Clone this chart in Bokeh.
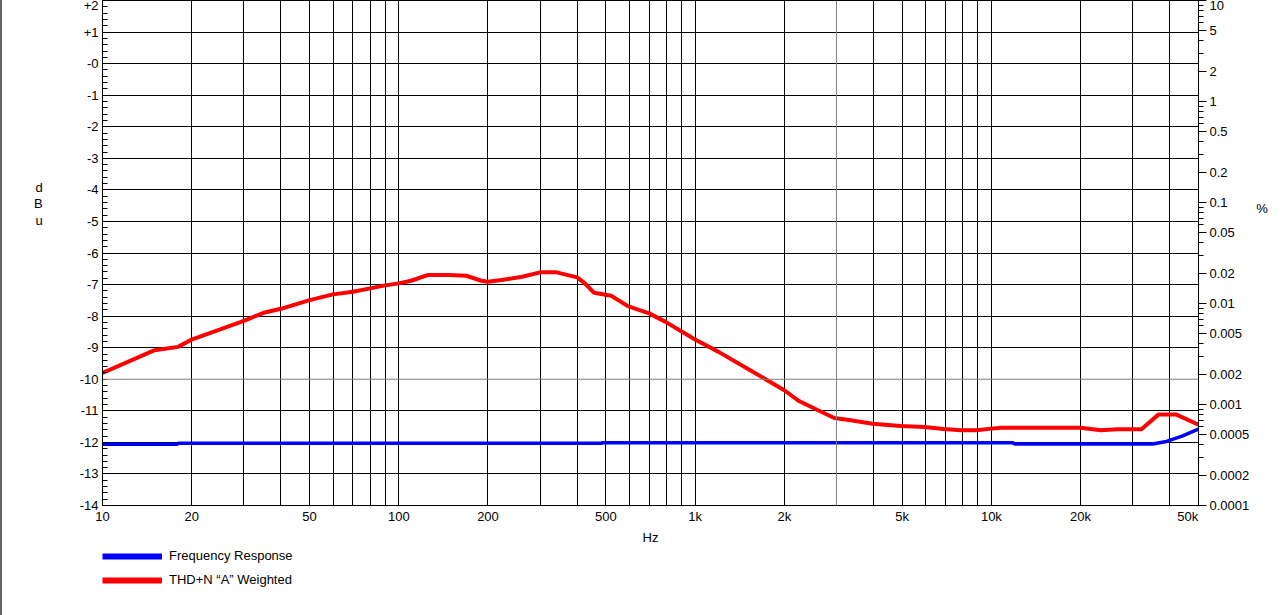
from bokeh.plotting import figure
from bokeh.layouts import column
from bokeh.models import (Range1d, LogAxis, FixedTicker, LogScale, Legend, LegendItem,
                          Span, CustomJSTickFormatter)
from bokeh.embed import file_html
from bokeh.resources import INLINE

FONT = "Liberation Sans"
NAN = float("nan")

# ---------------- data ----------------
freq_resp_hz = [10, 17.9, 18, 480, 490, 11800, 12000, 35000, 39000, 44000, 50000]
freq_resp_dbu = [-12.06, -12.06, -12.03, -12.03, -12.01, -12.01, -12.05, -12.05, -11.97, -11.80, -11.58]

thd_hz = [10, 15, 18, 20, 30, 35, 40, 50, 60, 70,
          80, 90, 100, 110, 125, 147, 169, 190, 200, 222,
          261, 300, 341, 400, 425, 456, 521, 593, 700, 795,
          898, 1000, 1200, 1550, 2000, 2250, 2600, 2950, 3350, 3970,
          4940, 5930, 6900, 7900, 8900, 10000, 10800, 13900, 20000, 23400,
          26700, 32100, 36600, 42100, 50000]
thd_pct = [0.00205, 0.00345, 0.00372, 0.00440, 0.00674, 0.00809, 0.00886, 0.01081, 0.01231, 0.01306,
           0.01412, 0.01512, 0.01582, 0.01680, 0.01913, 0.01913, 0.01883, 0.01680, 0.01642, 0.01707,
           0.01841, 0.02035, 0.02035, 0.01815, 0.01582, 0.01277, 0.01192, 0.00942, 0.00798, 0.00658,
           0.00532, 0.00440, 0.00332, 0.00215, 0.001384, 0.001076, 0.000876, 0.000735, 0.000697, 0.000646,
           0.000612, 0.000598, 0.000571, 0.000555, 0.000555, 0.000577, 0.000590, 0.000590, 0.000590, 0.000555,
           0.000568, 0.000568, 0.000794, 0.000794, 0.000632]

x_ticks = [10, 20, 50, 100, 200, 500, 1000, 2000, 5000, 10000, 20000, 50000]
x_labels = ["10", "20", "50", "100", "200", "500", "1k", "2k", "5k", "10k", "20k",
            "50k\u00a0\u00a0\u00a0\u00a0\u00a0\u00a0"]
dbu_ticks = list(range(-14, 3))
pct_ticks = [0.0001, 0.0002, 0.0005, 0.001, 0.002, 0.005, 0.01, 0.02, 0.05, 0.1, 0.2, 0.5, 1, 2, 5, 10]
pct_labels = ["0.0001", "0.0002", "0.0005", "0.001", "0.002", "0.005", "0.01", "0.02", "0.05",
              "0.1", "0.2", "0.5", "1", "2", "5", "10"]
series_names = ["Frequency Response", "THD+N \u201cA\u201d Weighted"]

W = 1278
H_MAIN = 548
H_LEG = 67

# ---------------- main figure ----------------
p = figure(width=W, height=H_MAIN, x_axis_type="log",
           x_range=Range1d(10, 50000), y_range=Range1d(-14, 2),
           output_backend="svg", toolbar_location=None,
           min_border_left=98, min_border_right=W - 1196, min_border_top=0,
           min_border_bottom=H_MAIN - 505)
p.outline_line_color = "black"
p.outline_line_width = 1
p.background_fill_color = "white"
p.border_fill_color = "white"

p.extra_y_ranges = {"pct": Range1d(0.0001, 10)}
p.extra_y_scales = {"pct": LogScale()}

# grid
grid_x = [m * 10 ** e for e in range(1, 5) for m in range(1, 10)] + [50000]
grid_x = [g for g in grid_x if 10 <= g <= 50000 and g != 3000]
p.xgrid.ticker = FixedTicker(ticks=grid_x)
p.xgrid.grid_line_color = "black"
p.xgrid.grid_line_width = 1
p.ygrid.ticker = FixedTicker(ticks=[t for t in dbu_ticks if t != -10])
p.ygrid.grid_line_color = "black"
p.ygrid.grid_line_width = 1
p.add_layout(Span(location=-10, dimension="width", line_color="#808080", line_width=1))
p.add_layout(Span(location=3000, dimension="height", line_color="#808080", line_width=1))

LOOKUP = """
let best = 0, bd = Infinity;
for (let i = 0; i < vals.length; i++) {
  const d = Math.abs(Math.log10(tick) - Math.log10(vals[i]));
  if (d < bd) { bd = d; best = i; }
}
return labs[best];
"""

# x axis
xa = p.xaxis[0]
xa.ticker = FixedTicker(ticks=x_ticks)
xa.formatter = CustomJSTickFormatter(args=dict(vals=x_ticks, labs=x_labels), code=LOOKUP)
xa.major_tick_in = 0
xa.major_tick_out = 0
xa.minor_tick_in = 0
xa.minor_tick_out = 0
xa.major_label_standoff = 3
xa.axis_label = "Hz"
xa.axis_label_standoff = 3

# left axis
ya = p.yaxis[0]
ya.ticker = FixedTicker(ticks=dbu_ticks, minor_ticks=[round(-14 + 0.2 * i, 2) for i in range(81)])
ya.formatter = CustomJSTickFormatter(code="""
const t = Math.round(tick);
if (t > 0) return '+' + t;
if (t === 0) return '-0';
return String(t);
""")
ya.major_tick_in = 0
ya.major_tick_out = 0
ya.minor_tick_in = 5
ya.minor_tick_out = 0
ya.major_label_standoff = 4
ya.axis_label = "d\nB\nu\n \n \n \n \n \n "
ya.axis_label_orientation = "horizontal"
ya.axis_label_standoff = 34
ya.axis_label_text_line_height = 1.1

# right axis
pct_minor = [m * 10.0 ** e for e in range(-4, 1) for m in (3, 4, 6, 7, 8, 9)]
ra = LogAxis(y_range_name="pct", ticker=FixedTicker(ticks=pct_ticks, minor_ticks=pct_minor))
ra.formatter = CustomJSTickFormatter(args=dict(vals=pct_ticks, labs=pct_labels), code=LOOKUP)
ra.major_tick_in = 0
ra.major_tick_out = 8
ra.minor_tick_in = 0
ra.minor_tick_out = 5
ra.major_label_standoff = 3
ra.axis_label = "%\n \n \n \n \n "
ra.axis_label_orientation = "horizontal"
ra.axis_label_standoff = 4
p.add_layout(ra, "right")

for ax in (xa, ya, ra):
    ax.axis_line_color = "black"
    ax.major_tick_line_color = "black"
    ax.minor_tick_line_color = "black"
    ax.major_label_text_font = FONT
    ax.major_label_text_font_size = "13px"
    ax.major_label_text_color = "black"
    ax.axis_label_text_font = FONT
    ax.axis_label_text_font_size = "13px"
    ax.axis_label_text_color = "black"
    ax.axis_label_text_font_style = "normal"

# curves
p.line(thd_hz, thd_pct, y_range_name="pct", line_color="#ff0000", line_width=4)
p.line(freq_resp_hz, freq_resp_dbu, line_color="#0000ff", line_width=3.5)

# ---------------- legend figure ----------------
lf = figure(width=W, height=H_LEG, x_range=Range1d(0, 1), y_range=Range1d(0, 1),
            output_backend="svg", toolbar_location=None,
            min_border_left=100, min_border_right=0, min_border_top=0, min_border_bottom=0)
lf.axis.visible = False
lf.grid.visible = False
lf.outline_line_color = None
lf.background_fill_color = "white"
lf.border_fill_color = "white"
lb = lf.line([NAN], [NAN], line_color="#0000ff", line_width=6)
lr = lf.line([NAN], [NAN], line_color="#ff0000", line_width=6)
legend = Legend(items=[LegendItem(label=series_names[0], renderers=[lb]),
                       LegendItem(label=series_names[1], renderers=[lr])],
                location="top_left", orientation="vertical",
                glyph_width=60, glyph_height=14, label_height=14, spacing=9,
                padding=0, margin=0, label_standoff=7,
                border_line_alpha=0, background_fill_alpha=0,
                label_text_font=FONT, label_text_font_size="13px", label_text_color="black")
lf.add_layout(legend, "center")

layout = column(p, lf, spacing=0, styles={"border-left": "2px solid #646464"})
open("out.html", "w").write(file_html(layout, INLINE))
